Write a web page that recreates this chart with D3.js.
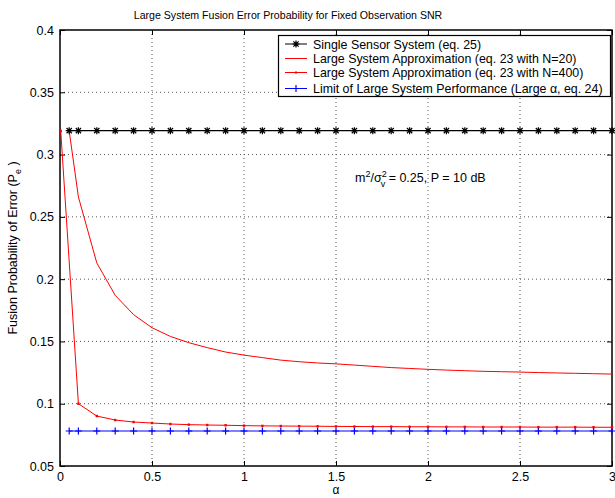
<!DOCTYPE html>
<html>
<head>
<meta charset="utf-8">
<script src="https://cdn.jsdelivr.net/npm/d3@7"></script>
<style>
  body { margin: 0; background: #fff; }
  text { font-family: "Liberation Sans", Arial, Helvetica, sans-serif; }
</style>
</head>
<body>
<div id="chart"></div>
<script>
// values
var alphaGrid = [0.05, 0.1, 0.2, 0.3, 0.4, 0.5, 0.6, 0.7, 0.8, 0.9, 1.0,
                 1.1, 1.2, 1.3, 1.4, 1.5, 1.6, 1.7, 1.8, 1.9, 2.0,
                 2.1, 2.2, 2.3, 2.4, 2.5, 2.6, 2.7, 2.8, 2.9, 3.0];

var singleSensor = alphaGrid.map(function () { return 0.3192; });

var largeN20 = [0.319, 0.266, 0.213, 0.187, 0.1715, 0.161, 0.154, 0.149, 0.145, 0.1415, 0.139,
                0.137, 0.135, 0.1337, 0.1327, 0.132, 0.131, 0.130, 0.129, 0.1283, 0.1276,
                0.127, 0.1265, 0.126, 0.1257, 0.1254, 0.125, 0.1247, 0.1244, 0.1241, 0.1238];

var alphaN400 = [0.004, 0.1, 0.2, 0.3, 0.4, 0.5, 0.6, 0.7, 0.8, 0.9, 1.0,
                 1.1, 1.2, 1.3, 1.4, 1.5, 1.6, 1.7, 1.8, 1.9, 2.0,
                 2.1, 2.2, 2.3, 2.4, 2.5, 2.6, 2.7, 2.8, 2.9, 3.0];
var largeN400 = [0.319, 0.100, 0.0901, 0.0869, 0.0853, 0.0845, 0.0837, 0.0832, 0.0829, 0.0827, 0.0824,
                 0.0822, 0.0821, 0.0820, 0.0819, 0.0818, 0.0817, 0.0816, 0.0816, 0.0815, 0.0815,
                 0.0814, 0.0814, 0.0813, 0.0813, 0.0813, 0.0812, 0.0812, 0.0812, 0.0811, 0.0811];

var limitLarge = alphaGrid.map(function () { return 0.0781; });

var xTicks = [0, 0.5, 1, 1.5, 2, 2.5, 3];
var yTicks = [0.05, 0.1, 0.15, 0.2, 0.25, 0.3, 0.35, 0.4];

var legendLabels = [
    "Single Sensor System (eq. 25)",
    "Large System Approximation (eq. 23 with N=20)",
    "Large System Approximation (eq. 23 with N=400)",
    "Limit of Large System Performance (Large \u03b1, eq. 24)"
];

var width = 615,
    height = 498;
var pL = 60, pR = 612, pT = 30, pB = 466;

var svg = d3.select("#chart").append("svg")
    .attr("width", width)
    .attr("height", height);

var x = d3.scaleLinear().domain([0, 3]).range([pL, pR]);
var y = d3.scaleLinear().domain([0.05, 0.4]).range([pB, pT]);

var fmt = function (d) { return String(+d.toFixed(2)); };

// dotted grid
var grid = svg.append("g");
grid.selectAll(".gx")
    .data(xTicks.slice(1, -1))
    .enter().append("line")
    .attr("x1", function (d) { return x(d); })
    .attr("x2", function (d) { return x(d); })
    .attr("y1", pT).attr("y2", pB)
    .attr("stroke", "#555").attr("stroke-width", 1)
    .attr("stroke-dasharray", "1,3");
grid.selectAll(".gy")
    .data(yTicks.slice(1, -1))
    .enter().append("line")
    .attr("y1", function (d) { return y(d); })
    .attr("y2", function (d) { return y(d); })
    .attr("x1", pL).attr("x2", pR)
    .attr("stroke", "#555").attr("stroke-width", 1)
    .attr("stroke-dasharray", "1,3");

// axes (ticks pointing inward, MATLAB style)
var xAxis = svg.append("g")
    .attr("transform", "translate(0," + pB + ")")
    .call(d3.axisBottom(x).tickValues(xTicks).tickFormat(fmt).tickSizeInner(-5).tickSizeOuter(0).tickPadding(6));
var xAxisTop = svg.append("g")
    .attr("transform", "translate(0," + pT + ")")
    .call(d3.axisTop(x).tickValues(xTicks).tickFormat("").tickSizeInner(-5).tickSizeOuter(0));
var yAxis = svg.append("g")
    .attr("transform", "translate(" + pL + ",0)")
    .call(d3.axisLeft(y).tickValues(yTicks).tickFormat(fmt).tickSizeInner(-5).tickSizeOuter(0).tickPadding(6));
var yAxisRight = svg.append("g")
    .attr("transform", "translate(" + pR + ",0)")
    .call(d3.axisRight(y).tickValues(yTicks).tickFormat("").tickSizeInner(-5).tickSizeOuter(0));

[xAxis, xAxisTop, yAxis, yAxisRight].forEach(function (a) {
    a.selectAll("path").remove();
    a.selectAll("line").attr("stroke", "#000");
    a.selectAll("text").attr("font-size", 12.5).attr("fill", "#000")
        .style("font-family", "'Liberation Sans', Arial, sans-serif");
});

svg.append("rect")
    .attr("x", pL).attr("y", pT)
    .attr("width", pR - pL).attr("height", pB - pT)
    .attr("fill", "none").attr("stroke", "#000").attr("stroke-width", 1.5);

// series
var line = d3.line()
    .x(function (d) { return x(d[0]); })
    .y(function (d) { return y(d[1]); });

var sSingle = d3.zip(alphaGrid, singleSensor);
var sN20 = d3.zip(alphaGrid, largeN20);
var sN400 = d3.zip(alphaN400, largeN400);
var sLimit = d3.zip(alphaGrid, limitLarge);

var plot = svg.append("g");

plot.append("path").datum(sSingle).attr("d", line)
    .attr("fill", "none").attr("stroke", "#000").attr("stroke-width", 1.2);
plot.append("path").datum(sN20).attr("d", line)
    .attr("fill", "none").attr("stroke", "#f00").attr("stroke-width", 1);
plot.append("path").datum(sN400).attr("d", line)
    .attr("fill", "none").attr("stroke", "#f00").attr("stroke-width", 1);
plot.append("path").datum(sLimit).attr("d", line)
    .attr("fill", "none").attr("stroke", "#00f").attr("stroke-width", 1.2);

function starPath(cx, cy, r) {
    var d = "M" + (cx - r) + "," + cy + "H" + (cx + r) +
        "M" + cx + "," + (cy - r) + "V" + (cy + r);
    var k = r * 0.75;
    d += "M" + (cx - k) + "," + (cy - k) + "L" + (cx + k) + "," + (cy + k) +
        "M" + (cx - k) + "," + (cy + k) + "L" + (cx + k) + "," + (cy - k);
    return d;
}
function plusPath(cx, cy, r) {
    return "M" + (cx - r) + "," + cy + "H" + (cx + r) +
        "M" + cx + "," + (cy - r) + "V" + (cy + r);
}

plot.selectAll(".star").data(sSingle).enter().append("path")
    .attr("d", function (d) { return starPath(x(d[0]), y(d[1]), 3.5); })
    .attr("stroke", "#000").attr("stroke-width", 1.2).attr("fill", "none");

plot.selectAll(".plus").data(sLimit).enter().append("path")
    .attr("d", function (d) { return plusPath(x(d[0]), y(d[1]), 3.5); })
    .attr("stroke", "#00f").attr("stroke-width", 1.2).attr("fill", "none");

plot.selectAll(".dot").data(sN400).enter().append("rect")
    .attr("x", function (d) { return x(d[0]) - 1.2; })
    .attr("y", function (d) { return y(d[1]) - 1.2; })
    .attr("width", 2.4).attr("height", 2.4)
    .attr("fill", "#f00");

// legend
var lg = svg.append("g");
lg.append("rect")
    .attr("x", 278.5).attr("y", 35.5)
    .attr("width", 332).attr("height", 61)
    .attr("fill", "#fff").attr("stroke", "#000").attr("stroke-width", 1.2);

var legendY = [44, 58.5, 72.5, 88.5];
legendLabels.forEach(function (lab, i) {
    var ly = legendY[i];
    var col = ["#000", "#f00", "#f00", "#00f"][i];
    lg.append("line")
        .attr("x1", 285).attr("x2", 307)
        .attr("y1", ly).attr("y2", ly)
        .attr("stroke", col).attr("stroke-width", 1);
    if (i === 0) lg.append("path").attr("d", starPath(296, ly, 3.5)).attr("stroke", "#000").attr("stroke-width", 1.2);
    if (i === 2) lg.append("rect").attr("x", 295).attr("y", ly - 1).attr("width", 2).attr("height", 2).attr("fill", "#f00");
    if (i === 3) lg.append("path").attr("d", plusPath(296, ly, 3.5)).attr("stroke", "#00f").attr("stroke-width", 1.2);
    lg.append("text")
        .attr("x", 313).attr("y", ly + 4.5)
        .attr("font-size", 12.4)
        .text(lab);
});

// title and labels
svg.append("text")
    .attr("x", 288).attr("y", 19)
    .attr("text-anchor", "middle")
    .attr("font-size", 10.6)
    .text("Large System Fusion Error Probability for Fixed Observation SNR");

svg.append("text")
    .attr("x", x(1.5)).attr("y", 494)
    .attr("text-anchor", "middle")
    .attr("font-size", 12)
    .text("\u03b1");

var yl = svg.append("text")
    .attr("transform", "translate(17,248) rotate(-90)")
    .attr("text-anchor", "middle")
    .attr("font-size", 12.5);
yl.append("tspan").text("Fusion Probability of Error (P");
yl.append("tspan").attr("dy", 4).attr("font-size", 9).text("e");
yl.append("tspan").attr("dy", -4).text(" )");

var ann = svg.append("text")
    .attr("x", 355).attr("y", 182)
    .attr("font-size", 12.5);
ann.append("tspan").text("m");
ann.append("tspan").attr("dy", -5).attr("font-size", 9).text("2");
ann.append("tspan").attr("dy", 5).text("/\u03c3");
ann.append("tspan").attr("dy", -5).attr("font-size", 9).text("2");
ann.append("tspan").attr("dx", -6).attr("dy", 10).attr("font-size", 9).text("v");
ann.append("tspan").attr("dy", -5).text(" = 0.25, P = 10 dB");
</script>
</body>
</html>
